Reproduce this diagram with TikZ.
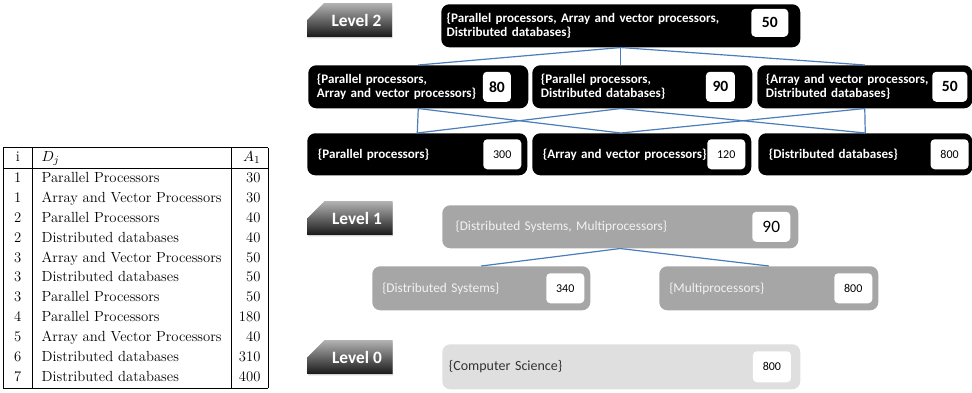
\documentclass[tikz,border=0pt]{standalone}
\usepackage{fontspec}
\newfontfamily\carlito{Carlito}
\usetikzlibrary{positioning,shapes.misc,shadows}
\definecolor{linkblue}{HTML}{4A7EBB}
\definecolor{midgray}{HTML}{A6A6A6}
\definecolor{palegray}{HTML}{DFDFDF}
\tikzset{every node/.style={inner sep=0pt}}
\tikzset{link/.style={draw=linkblue, line width=0.9pt}}
\tikzset{lvtag/.style={chamfered rectangle, chamfered rectangle corners=north west,
  chamfered rectangle xsep=9pt, chamfered rectangle ysep=8pt,
  minimum width=63.75pt, minimum height=19.5pt, top color=black!30, bottom color=black!90,
  text=white, font=\carlito\bfseries\fontsize{13}{13}\selectfont,
  drop shadow={opacity=0.35, shadow xshift=0.3pt, shadow yshift=-1.2pt}}}
\tikzset{darkbox/.style={fill=black, text=white, rounded corners=6pt, anchor=north west, align=left,
  font=\carlito\bfseries\fontsize{9.8}{10}\selectfont}}
\tikzset{greybox/.style={fill=midgray, text=white!85!midgray, rounded corners=6pt, anchor=north west,
  align=left, font=\carlito\fontsize{10}{11}\selectfont}}
\tikzset{paleboxx/.style={fill=palegray, text=black!80, rounded corners=6pt, anchor=north west,
  align=left, font=\carlito\fontsize{10.5}{11}\selectfont}}
\tikzset{numbox/.style={fill=white, text=black, rounded corners=3pt, minimum width=28.5pt,
  minimum height=22.5pt, font=\carlito\fontsize{9}{9}\selectfont}}
\tikzset{numbig/.style={numbox, font=\carlito\bfseries\fontsize{11.7}{12}\selectfont}}

\begin{document}
\begin{tikzpicture}[x=0.75pt,y=-0.75pt]
\useasboundingbox (0,0) rectangle (972,393);

% table
\node[anchor=north west] (tbl) at (3,147) {\fontsize{11}{13.6}\selectfont
\renewcommand{\arraystretch}{1.1}%
\begin{tabular}{|@{\hspace{8pt}}c@{\hspace{8pt}}|@{\hspace{7pt}}l@{\hspace{7pt}}|r|}
\hline
i & $D_j$ & $A_1$ \\ \hline
1 & Parallel Processors & 30 \\
1 & Array and Vector Processors & 30 \\
2 & Parallel Processors & 40 \\
2 & Distributed databases & 40 \\
3 & Array and Vector Processors & 50 \\
3 & Distributed databases & 50 \\
3 & Parallel Processors & 50 \\
4 & Parallel Processors & 180 \\
5 & Array and Vector Processors & 40 \\
6 & Distributed databases & 310 \\
7 & Distributed databases & 400 \\
\hline
\end{tabular}};

% level tags
\node[lvtag] (lvtwo) at (349.5,20) {\hspace*{10.5pt}Level 2};
\node[lvtag] (lvone) at (350,218) {\hspace*{10.5pt}Level 1};
\node[lvtag] (lvzero) at (350,357) {\hspace*{10.5pt}Level 0};

% level 2
\node[darkbox, inner xsep=4pt, text width=261.25pt, minimum height=32.25pt] (pad) at (441,4)
  {\{Parallel processors, Array and vector processors,\\Distributed databases\}};
\node[numbig, minimum width=27.75pt, minimum height=21pt, left=9pt of pad.east, yshift=2.25pt] (pad-n) {50};

\node[darkbox, inner xsep=6.5pt, text width=152pt, minimum height=32.25pt] (pa) at (308,65)
  {\{Parallel processors,\\Array and vector processors\}};
\node[numbig, minimum width=21pt, left=13pt of pa.east] (pa-n) {80};
\node[darkbox, inner xsep=6.5pt, text width=152pt, minimum height=32.25pt] (pd) at (532,65)
  {\{Parallel processors,\\Distributed databases\}};
\node[numbig, minimum width=21.75pt, left=13pt of pd.east] (pd-n) {90};
\node[darkbox, inner xsep=6.5pt, text width=148.25pt, minimum height=32.25pt] (ad) at (757,65)
  {\{Array and vector processors,\\Distributed databases\}};
\node[numbig, minimum width=26.25pt, left=3.75pt of ad.east] (ad-n) {50};

\node[darkbox, inner xsep=8pt, text width=149pt, minimum height=31.5pt] (par) at (307,133)
  {\{Parallel processors\}};
\node[numbox, left=4.5pt of par.east] (par-n) {300};
\node[darkbox, inner xsep=8pt, text width=148.25pt, minimum height=31.5pt] (arr) at (532,133)
  {\{Array and vector processors\}};
\node[numbox, left=4.5pt of arr.east] (arr-n) {120};
\node[darkbox, inner xsep=8pt, text width=144.5pt, minimum height=31.5pt] (dis) at (758,133)
  {\{Distributed databases\}};
\node[numbox, left=2.75pt of dis.east] (dis-n) {800};

\draw[link] (pad.south) -- (pa.north);
\draw[link] (pad.south) -- (pad.south |- pd.north);
\draw[link] (pad.south) -- (ad.north);
\draw[link] (pa.south) -- (par.north);
\draw[link] (pa.south) -- (pad.south |- arr.north);
\draw[link] (pad.south |- pd.south) -- (par.north);
\draw[link] (pad.south |- pd.south) -- (dis.north);
\draw[link] (ad.south) -- (pad.south |- arr.north);
\draw[link] (ad.south) -- (dis.north);

% level 1
\node[greybox, inner xsep=10pt, text width=247pt, minimum height=32.25pt] (dsm) at (442,205)
  {\{Distributed Systems, Multiprocessors\}};
\node[numbox, font=\carlito\fontsize{13}{13}\selectfont, left=6pt of dsm.east] (dsm-n) {90};
\node[greybox, inner xsep=7.5pt, text width=148.5pt, minimum height=33pt] (dsys) at (372,266)
  {\{Distributed Systems\}};
\node[numbox, left=4.5pt of dsys.east] (dsys-n) {340};
\node[greybox, inner xsep=7.5pt, text width=149.25pt, minimum height=33pt] (mpro) at (659,266)
  {\{Multiprocessors\}};
\node[numbox, left=4.5pt of mpro.east] (mpro-n) {800};

\draw[link] (dsm.south) -- (dsys.north);
\draw[link] (dsm.south) -- (mpro.north);

% level 0
\node[paleboxx, inner xsep=5pt, text width=258.5pt, minimum height=33.75pt] (cs) at (442,344)
  {\{Computer Science\}};
\node[numbox, minimum height=23.25pt, left=7pt of cs.east] (cs-n) {800};

\end{tikzpicture}
\end{document}
